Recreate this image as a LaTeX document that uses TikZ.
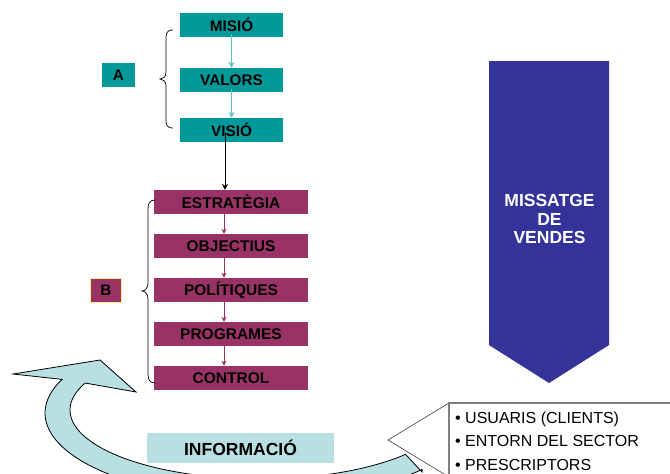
\documentclass[tikz,border=0pt]{standalone}
\usepackage{fontspec}
\setmainfont{Liberation Sans}
\usetikzlibrary{arrows.meta}
\definecolor{tealbox}{HTML}{009999}
\definecolor{tealarr}{HTML}{5CC2C2}
\definecolor{purp}{HTML}{993366}
\definecolor{navy}{HTML}{333399}
\definecolor{infoblue}{HTML}{B8DFE2}
\definecolor{ylw}{HTML}{F5EC8A}
\tikzset{
  tbox/.style={fill=tealbox, minimum width=103pt, minimum height=24pt, inner sep=0pt, font=\bfseries\fontsize{15.3}{18}\selectfont},
  pbox/.style={fill=purp, minimum width=154pt, minimum height=24pt, inner sep=0pt, font=\bfseries\fontsize{15.5}{18}\selectfont},
  tarr/.style={draw=tealarr, line width=1.3pt, -{Stealth[length=6pt,width=6pt]}},
  parr/.style={draw=purp, line width=0.8pt, -{Stealth[length=5pt,width=5pt]}},
  bullettxt/.style={anchor=base west, inner sep=0pt, font=\fontsize{16}{18}\selectfont},
}
\begin{document}
\begin{tikzpicture}[x=1pt,y=-1pt]
\useasboundingbox (0,0) rectangle (670,474);

% curved arrow
\begin{scope}
\clip (0,0) rectangle (670,474);
\filldraw[fill=infoblue, draw=black, line width=0.8pt]
  (422,472) -- plot[domain=41:203, samples=60, smooth] ({260+215*cos(\x)},{413+86*sin(\x)})
  -- (13,374) -- (100,360) -- (136,392)
  -- plot[domain=203:40, samples=60, smooth] ({260+190*cos(\x)},{410+69*sin(\x)}) -- cycle;
\end{scope}

% teal group
\node[tbox] (misio) at (231.5,25) {MISIÓ};
\node[tbox] (valors) at (231.5,80) {VALORS};
\node[tbox] (visio) at (231.5,130) {VISIÓ};
\node[tbox, minimum width=33pt] (A) at (118.5,75) {A};
\draw[tarr] ([yshift=3pt]misio.south) -- (valors.north);
\draw[tarr] ([yshift=3pt]valors.south) -- (visio.north);
\draw[line width=0.7pt] (173,30) .. controls (166,30) and (166,34) .. (166,40) -- (166,72)
  .. controls (166,77) and (163,79) .. (160,79) .. controls (163,79) and (166,81) .. (166,86)
  -- (166,118) .. controls (166,124) and (166,128) .. (173,128);

% purple group
\node[pbox] (estr) at (231,202) {ESTRATÈGIA};
\node[pbox] (obj) at (231,246) {OBJECTIUS};
\node[pbox] (pol) at (231,290) {POLÍTIQUES};
\node[pbox] (prog) at (231,334) {PROGRAMES};
\node[pbox] (ctrl) at (231,378) {CONTROL};
\node[fill=purp, draw=ylw, line width=1pt, minimum width=31pt, minimum height=24pt, inner sep=0pt,
  font=\bfseries\fontsize{15.3}{18}\selectfont] (B) at (106,290.5) {B};
\draw[line width=0.9pt, -{Stealth[length=6pt,width=6pt]}] ([xshift=-6.5pt,yshift=9pt]visio.south) -- ([xshift=-6pt]estr.north);
\draw[parr] ([xshift=-7pt,yshift=4pt]estr.south) -- ([xshift=-7pt]obj.north);
\draw[parr] ([xshift=-7pt,yshift=4pt]obj.south) -- ([xshift=-7pt]pol.north);
\draw[parr] ([xshift=-7pt,yshift=4pt]pol.south) -- ([xshift=-7pt]prog.north);
\draw[parr] ([xshift=-7pt,yshift=4pt]prog.south) -- ([xshift=-7pt]ctrl.north);
\draw[line width=0.7pt] (155,200) .. controls (149,200) and (148,204) .. (148,210) -- (148,283)
  .. controls (148,288) and (145,291) .. (142,291) .. controls (145,291) and (148,294) .. (148,299)
  -- (148,373) .. controls (148,379) and (149,383) .. (155,383);

% blue arrow
\fill[navy] (489,61) -- (609,61) -- (609,345) -- (549,383) -- (489,345) -- cycle;
\node[text=white, align=center, font=\bfseries\fontsize{17.5}{18.5}\selectfont] (msg) at (549.5,219) {MISSATGE\\DE\\VENDES};

% informacio
\node[fill=infoblue, minimum width=187pt, minimum height=30pt, inner sep=0pt,
  font=\bfseries\fontsize{17.5}{18}\selectfont] (info) at (240.5,448) {INFORMACIÓ};

% callout
\fill[white] (388,440) -- (449,403) -- (680,403) -- (680,480) -- (449,477) -- cycle;
\draw[black!75, line width=0.6pt] (449,403) -- (388,440) -- (449,477);
\draw[gray, line width=1.2pt] (680,403) -- (449,403) -- (449,480);
\node[bullettxt] (u1) at (455,423) {• USUARIS (CLIENTS)};
\node[bullettxt] (u2) at (455,446) {• ENTORN DEL SECTOR};
\node[bullettxt] (u3) at (455,470) {• PRESCRIPTORS};
\end{tikzpicture}
\end{document}
